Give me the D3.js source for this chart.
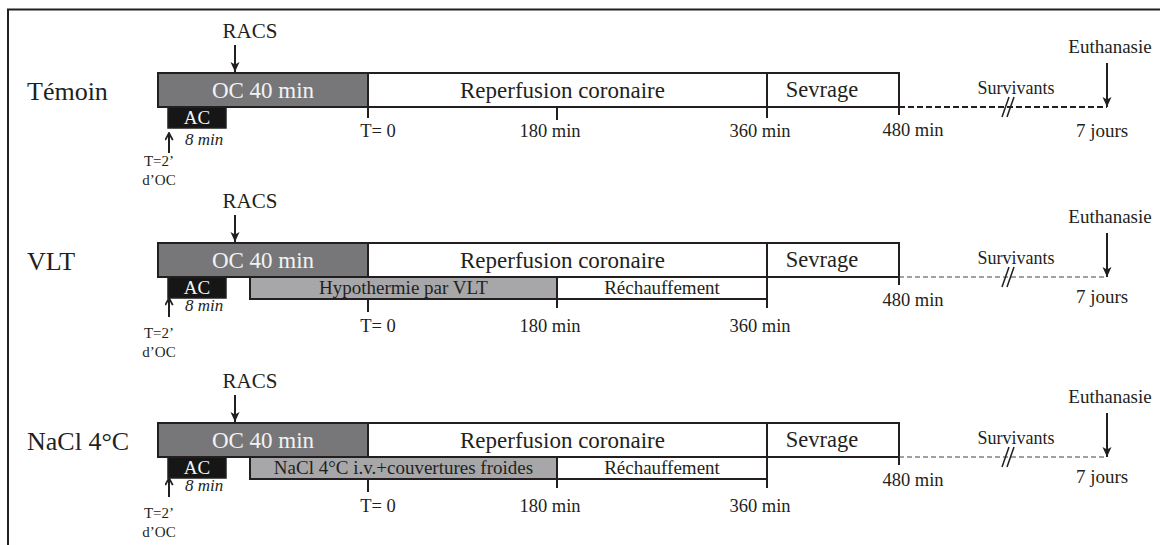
<!DOCTYPE html>
<html><head><meta charset="utf-8">
<script src="https://cdn.jsdelivr.net/npm/d3@7"></script>
<style>
html,body{margin:0;padding:0;background:#fff;}
svg{display:block;}
</style></head>
<body><svg id="chart" width="1160" height="545" font-family="'Liberation Serif', 'Times New Roman', serif"></svg>
<script>
// ---------- data ----------
const groups = ["Témoin", "VLT", "NaCl 4°C"];
const phaseNames = ["OC 40 min", "Reperfusion coronaire", "Sevrage"];
const phaseStarts = [-40, 0, 360];
const phaseEnds = [0, 360, 480];
const acLabel = "AC";
const acDurationLabel = "8 min";
const acStart = -38;
const acEnd = -30;
const acStartLabel = ["T=2’", "d’OC"];
const racsLabel = "RACS";
const racsTime = -25;
const coolingNames = ["", "Hypothermie par VLT", "NaCl 4°C i.v.+couvertures froides"];
const coolingStart = -20;
const coolingEnd = 180;
const rewarmName = "Réchauffement";
const rewarmStart = 180;
const rewarmEnd = 360;
const tickValues = [0, 180, 360, 480];
const tickLabels = ["T= 0", "180 min", "360 min", "480 min"];
const followUpEnd = 10080; // 7 jours en minutes
const followUpLabel = "7 jours";
const survivorsLabel = "Survivants";
const endpointLabel = "Euthanasie";
// schematic (non-proportional) time axis knots
const timeKnots = [-40, -38, -30, -25, -20, 0, 180, 360, 480, 10080];

// ---------- layout ----------
const svg = d3.select("#chart");
const x = d3.scaleLinear().domain(timeKnots)
  .range([158, 168, 226, 235, 250, 368, 557, 767, 899, 1107]);
const rowTop = d3.scaleOrdinal().domain(groups).range([73, 243, 423]);
const barH = 34, subH = 22;
const ink = "#231f20";

// frame
svg.append("path").attr("d", "M8,545 V9.5 H1160")
  .attr("fill", "none").attr("stroke", ink).attr("stroke-width", 2);

// markers
const defs = svg.append("defs");
defs.append("marker").attr("id", "head").attr("viewBox", "0 0 10 10")
  .attr("refX", 10).attr("refY", 5).attr("markerWidth", 10).attr("markerHeight", 10)
  .attr("markerUnits", "userSpaceOnUse").attr("orient", "auto")
  .append("path").attr("d", "M0,0.5 L10,5 L0,9.5 L2.5,5 Z").attr("fill", ink);
defs.append("marker").attr("id", "chev").attr("viewBox", "0 0 10 10")
  .attr("refX", 9).attr("refY", 5).attr("markerWidth", 9).attr("markerHeight", 9)
  .attr("markerUnits", "userSpaceOnUse").attr("orient", "auto")
  .append("path").attr("d", "M1,0.8 L9,5 L1,9.2").attr("fill", "none")
  .attr("stroke", ink).attr("stroke-width", 2);

const tickLabelDx = [10, -7, -7, 14];

groups.forEach((g, i) => {
  const y0 = rowTop(g);
  const G = svg.append("g");
  const hasCooling = coolingNames[i] !== "";

  // group label
  G.append("text").attr("x", 27).attr("y", y0 + 27).attr("font-size", 26)
    .attr("fill", ink).text(g);

  // RACS
  G.append("text").attr("x", x(racsTime) + 15).attr("y", y0 - 35)
    .attr("text-anchor", "middle").attr("font-size", 21).attr("fill", ink).text(racsLabel);
  G.append("line").attr("x1", x(racsTime)).attr("x2", x(racsTime))
    .attr("y1", y0 - 28).attr("y2", y0 - 1)
    .attr("stroke", ink).attr("stroke-width", 2).attr("marker-end", "url(#head)");

  // cooling + rewarming sub-bars
  if (hasCooling) {
    G.append("rect").attr("x", x(coolingStart)).attr("y", y0 + barH)
      .attr("width", x(coolingEnd) - x(coolingStart)).attr("height", subH)
      .attr("fill", "#a7a7a9").attr("stroke", ink).attr("stroke-width", 2);
    G.append("text").attr("x", (x(coolingStart) + x(coolingEnd)) / 2).attr("y", y0 + barH + 17)
      .attr("text-anchor", "middle").attr("font-size", 19).attr("fill", ink).text(coolingNames[i]);
    G.append("rect").attr("x", x(rewarmStart)).attr("y", y0 + barH)
      .attr("width", x(rewarmEnd) - x(rewarmStart)).attr("height", subH)
      .attr("fill", "#fff").attr("stroke", ink).attr("stroke-width", 2);
    G.append("text").attr("x", (x(rewarmStart) + x(rewarmEnd)) / 2).attr("y", y0 + barH + 17)
      .attr("text-anchor", "middle").attr("font-size", 19).attr("fill", ink).text(rewarmName);
  }

  // AC box
  G.append("rect").attr("x", x(acStart)).attr("y", y0 + barH)
    .attr("width", x(acEnd) - x(acStart)).attr("height", 21)
    .attr("fill", "#161616").attr("stroke", ink).attr("stroke-width", 1.5);
  G.append("text").attr("x", (x(acStart) + x(acEnd)) / 2).attr("y", y0 + barH + 17)
    .attr("text-anchor", "middle").attr("font-size", 19).attr("fill", "#f4f4f4").text(acLabel);
  G.append("text").attr("x", x(acStart) + 17).attr("y", y0 + (i === 0 ? 72 : 68))
    .attr("font-size", 17).attr("font-style", "italic").attr("fill", ink).text(acDurationLabel);
  // up arrow at AC start
  const upTop = y0 + (i === 0 ? 60 : 55), upBot = y0 + (i === 0 ? 80 : 74);
  G.append("line").attr("x1", x(acStart) + 1).attr("x2", x(acStart) + 1)
    .attr("y1", upBot).attr("y2", upTop).attr("stroke", ink).attr("stroke-width", 2)
    .attr("marker-end", "url(#chev)");
  acStartLabel.forEach((t, k) => {
    G.append("text").attr("x", x(acStart) - 9).attr("y", y0 + (i === 0 ? 93 : 95) + k * 19)
      .attr("text-anchor", "middle").attr("font-size", 15).attr("fill", ink).text(t);
  });

  // main phases
  phaseNames.forEach((p, k) => {
    const fill = k === 0 ? "#77777a" : "#fff";
    G.append("rect").attr("x", x(phaseStarts[k])).attr("y", y0)
      .attr("width", x(phaseEnds[k]) - x(phaseStarts[k])).attr("height", barH)
      .attr("fill", fill).attr("stroke", ink).attr("stroke-width", 2);
  });
  G.append("text").attr("x", (x(phaseStarts[0]) + x(phaseEnds[0])) / 2).attr("y", y0 + 25)
    .attr("text-anchor", "middle").attr("font-size", 23).attr("fill", "#f2f2f2").text(phaseNames[0]);
  G.append("text").attr("x", (x(phaseStarts[1]) + x(phaseEnds[1])) / 2 - 5).attr("y", y0 + 25)
    .attr("text-anchor", "middle").attr("font-size", 23).attr("fill", ink).text(phaseNames[1]);
  G.append("text").attr("x", (x(phaseStarts[2]) + x(phaseEnds[2])) / 2 - 11).attr("y", y0 + 24)
    .attr("text-anchor", "middle").attr("font-size", 22.5).attr("fill", ink).text(phaseNames[2]);

  // ticks + labels
  tickValues.forEach((t, k) => {
    let ya, yb, ly;
    if (t === 480) { ya = y0 + barH; yb = y0 + 42; ly = y0 + 63; }
    else if (hasCooling) { ya = y0 + barH + subH; yb = y0 + (t === 0 ? 69 : 65); ly = y0 + 89; }
    else { ya = y0 + barH; yb = y0 + (t === 180 ? 47 : 45); ly = y0 + 64; }
    G.append("line").attr("x1", x(t)).attr("x2", x(t)).attr("y1", ya).attr("y2", yb)
      .attr("stroke", ink).attr("stroke-width", 2);
    G.append("text").attr("x", x(t) + tickLabelDx[k]).attr("y", ly)
      .attr("text-anchor", "middle").attr("font-size", 18.5).attr("fill", ink).text(tickLabels[k]);
  });

  // follow-up dashed line
  const xa = x(phaseEnds[2]), xb = x(followUpEnd);
  G.append("line").attr("x1", xa).attr("x2", xb).attr("y1", y0 + barH).attr("y2", y0 + barH)
    .attr("stroke", i === 0 ? ink : "#444").attr("stroke-width", i === 0 ? 2 : 1.2)
    .attr("stroke-dasharray", i === 0 ? "6,3" : "5,3");
  const bx = (xa + xb) / 2 + 3;
  [0, 5].forEach(d => {
    G.append("line").attr("x1", bx - 4 + d).attr("y1", y0 + barH + 10)
      .attr("x2", bx + 3 + d).attr("y2", y0 + barH - 10)
      .attr("stroke", ink).attr("stroke-width", 1.5);
  });
  G.append("text").attr("x", bx + 10).attr("y", y0 + 21).attr("text-anchor", "middle")
    .attr("font-size", 18).attr("fill", ink).text(survivorsLabel);
  G.append("text").attr("x", xb - 5).attr("y", y0 + (i === 0 ? 64 : 60)).attr("text-anchor", "middle")
    .attr("font-size", 19).attr("fill", ink).text(followUpLabel);

  // euthanasia arrow
  G.append("text").attr("x", xb + 3).attr("y", y0 - 20).attr("text-anchor", "middle")
    .attr("font-size", 19).attr("fill", ink).text(endpointLabel);
  G.append("line").attr("x1", xb).attr("x2", xb).attr("y1", y0 - 10).attr("y2", y0 + barH)
    .attr("stroke", ink).attr("stroke-width", 2).attr("marker-end", "url(#head)");
});
</script></body></html>
